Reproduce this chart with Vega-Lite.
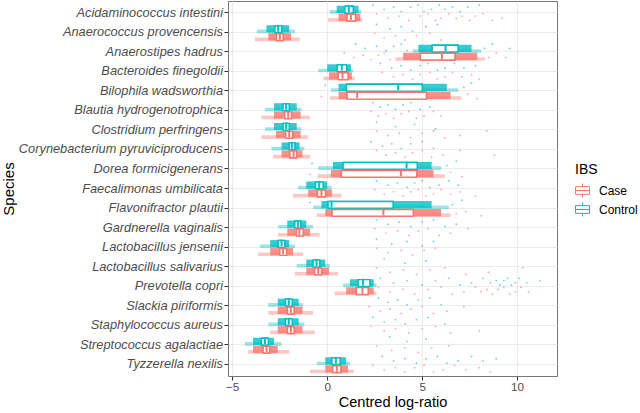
{
"$schema": "https://vega.github.io/schema/vega-lite/v6.json",
"width": 329, "height": 375,
"autosize": {"type": "none"},
"padding": {"left": 228, "top": 1, "right": 83, "bottom": 37},
"background": "white",
"config": {
 "font": "Liberation Sans",
 "view": {"stroke": "#777777", "strokeWidth": 1},
 "axis": {"domain": false, "gridColor": "#EBEBEB", "gridWidth": 1, "tickColor": "#333333", "tickSize": 4, "labelColor": "#4D4D4D", "titleColor": "#000000", "titleFontWeight": "normal"},
 "legend": {"orient": "none", "legendX": 347, "legendY": 162, "titleFontSize": 14, "titleFontWeight": "normal", "titleColor": "#000000", "labelFontSize": 12, "labelColor": "#000000", "symbolType": "M-1,-0.55H1 M1,-0.55V0.55 M1,0.55H-1 M-1,0.55V-0.55 M-1,0H1 M0,-0.55V-1 M0,0.55V1", "symbolSize": 196, "rowPadding": 0, "titlePadding": 6, "labelOffset": 9, "padding": 0, "symbolStrokeWidth": 1}
},
"datasets": {
 "sp": [
  {"s": "Ai", "species": "Acidaminococcus intestini"},
  {"s": "Ap", "species": "Anaerococcus provencensis"},
  {"s": "Ah", "species": "Anaerostipes hadrus"},
  {"s": "Bf", "species": "Bacteroides finegoldii"},
  {"s": "Bw", "species": "Bilophila wadsworthia"},
  {"s": "Bh", "species": "Blautia hydrogenotrophica"},
  {"s": "Cp", "species": "Clostridium perfringens"},
  {"s": "Cy", "species": "Corynebacterium pyruviciproducens"},
  {"s": "Df", "species": "Dorea formicigenerans"},
  {"s": "Fu", "species": "Faecalimonas umbilicata"},
  {"s": "Fp", "species": "Flavonifractor plautii"},
  {"s": "Gv", "species": "Gardnerella vaginalis"},
  {"s": "Lj", "species": "Lactobacillus jensenii"},
  {"s": "Ls", "species": "Lactobacillus salivarius"},
  {"s": "Pc", "species": "Prevotella copri"},
  {"s": "Sp", "species": "Slackia piriformis"},
  {"s": "Sa", "species": "Staphylococcus aureus"},
  {"s": "Sg", "species": "Streptococcus agalactiae"},
  {"s": "Tn", "species": "Tyzzerella nexilis"}
 ],
 "box": [
  {"species": "Acidaminococcus intestini", "g": "Control", "lo": 0.14, "a": 0.5, "q1": 0.93, "med": 1.14, "q3": 1.37, "b": 1.65, "hi": 1.8},
  {"species": "Acidaminococcus intestini", "g": "Case", "lo": 0.05, "a": 0.6, "q1": 1.05, "med": 1.25, "q3": 1.49, "b": 1.75, "hi": 1.85},
  {"species": "Anaerococcus provencensis", "g": "Control", "lo": -3.7, "a": -3.2, "q1": -2.75, "med": -2.58, "q3": -2.4, "b": -2.0, "hi": -1.7},
  {"species": "Anaerococcus provencensis", "g": "Case", "lo": -3.8, "a": -3.1, "q1": -2.67, "med": -2.49, "q3": -2.32, "b": -1.9, "hi": -1.44},
  {"species": "Anaerostipes hadrus", "g": "Control", "lo": 4.5, "a": 4.8, "q1": 5.53, "med": 6.23, "q3": 6.89, "b": 7.6, "hi": 8.1},
  {"species": "Anaerostipes hadrus", "g": "Case", "lo": 3.6, "a": 4.0, "q1": 4.91, "med": 6.04, "q3": 6.72, "b": 7.9, "hi": 8.3},
  {"species": "Bacteroides finegoldii", "g": "Control", "lo": -0.47, "a": 0.0, "q1": 0.54, "med": 0.77, "q3": 1.02, "b": 1.25, "hi": 1.37},
  {"species": "Bacteroides finegoldii", "g": "Case", "lo": -0.2, "a": 0.1, "q1": 0.58, "med": 0.81, "q3": 1.1, "b": 1.3, "hi": 1.45},
  {"species": "Bilophila wadsworthia", "g": "Control", "lo": 0.2, "a": 0.6, "q1": 1.02, "med": 3.74, "q3": 5.0, "b": 6.3, "hi": 6.9},
  {"species": "Bilophila wadsworthia", "g": "Case", "lo": 0.14, "a": 0.6, "q1": 1.05, "med": 1.58, "q3": 5.23, "b": 6.5, "hi": 7.07},
  {"species": "Blautia hydrogenotrophica", "g": "Control", "lo": -3.28, "a": -2.8, "q1": -2.32, "med": -2.16, "q3": -2.0, "b": -1.6, "hi": -1.35},
  {"species": "Blautia hydrogenotrophica", "g": "Case", "lo": -3.46, "a": -2.8, "q1": -2.23, "med": -2.05, "q3": -1.88, "b": -1.4, "hi": -0.91},
  {"species": "Clostridium perfringens", "g": "Control", "lo": -3.28, "a": -2.8, "q1": -2.32, "med": -2.16, "q3": -2.0, "b": -1.6, "hi": -1.35},
  {"species": "Clostridium perfringens", "g": "Case", "lo": -3.46, "a": -2.7, "q1": -2.18, "med": -2.0, "q3": -1.82, "b": -1.4, "hi": -1.0},
  {"species": "Corynebacterium pyruviciproducens", "g": "Control", "lo": -2.93, "a": -2.4, "q1": -2.0, "med": -1.86, "q3": -1.7, "b": -1.45, "hi": -1.2},
  {"species": "Corynebacterium pyruviciproducens", "g": "Case", "lo": -2.84, "a": -2.4, "q1": -1.96, "med": -1.77, "q3": -1.61, "b": -1.3, "hi": -0.9},
  {"species": "Dorea formicigenerans", "g": "Control", "lo": -0.47, "a": 0.3, "q1": 0.84, "med": 4.18, "q3": 4.74, "b": 5.5, "hi": 6.0},
  {"species": "Dorea formicigenerans", "g": "Case", "lo": -0.5, "a": 0.2, "q1": 0.75, "med": 3.88, "q3": 4.72, "b": 5.6, "hi": 6.2},
  {"species": "Faecalimonas umbilicata", "g": "Control", "lo": -1.53, "a": -1.1, "q1": -0.61, "med": -0.42, "q3": -0.21, "b": 0.0, "hi": 0.23},
  {"species": "Faecalimonas umbilicata", "g": "Case", "lo": -1.8, "a": -1.0, "q1": -0.51, "med": -0.3, "q3": -0.09, "b": 0.25, "hi": 0.75},
  {"species": "Flavonifractor plautii", "g": "Control", "lo": -0.74, "a": -0.3, "q1": 0.05, "med": 0.23, "q3": 3.47, "b": 5.5, "hi": 6.4},
  {"species": "Flavonifractor plautii", "g": "Case", "lo": -0.56, "a": -0.1, "q1": 0.26, "med": 2.96, "q3": 4.53, "b": 6.0, "hi": 6.5},
  {"species": "Gardnerella vaginalis", "g": "Control", "lo": -2.58, "a": -2.1, "q1": -1.7, "med": -1.54, "q3": -1.39, "b": -1.1, "hi": -0.74},
  {"species": "Gardnerella vaginalis", "g": "Case", "lo": -2.58, "a": -2.1, "q1": -1.61, "med": -1.47, "q3": -1.26, "b": -0.9, "hi": -0.4},
  {"species": "Lactobacillus jensenii", "g": "Control", "lo": -3.54, "a": -3.0, "q1": -2.58, "med": -2.4, "q3": -2.23, "b": -2.0, "hi": -1.7},
  {"species": "Lactobacillus jensenii", "g": "Case", "lo": -3.63, "a": -3.0, "q1": -2.49, "med": -2.32, "q3": -2.14, "b": -1.8, "hi": -1.26},
  {"species": "Lactobacillus salivarius", "g": "Control", "lo": -1.6, "a": -1.1, "q1": -0.74, "med": -0.56, "q3": -0.39, "b": -0.1, "hi": 0.14},
  {"species": "Lactobacillus salivarius", "g": "Case", "lo": -1.7, "a": -1.1, "q1": -0.65, "med": -0.47, "q3": -0.3, "b": 0.1, "hi": 0.58},
  {"species": "Prevotella copri", "g": "Control", "lo": 0.84, "a": 1.2, "q1": 1.63, "med": 1.89, "q3": 2.25, "b": 2.45, "hi": 2.6},
  {"species": "Prevotella copri", "g": "Case", "lo": 0.4, "a": 1.0, "q1": 1.54, "med": 1.86, "q3": 2.16, "b": 2.45, "hi": 2.6},
  {"species": "Slackia piriformis", "g": "Control", "lo": -3.1, "a": -2.6, "q1": -2.19, "med": -2.02, "q3": -1.84, "b": -1.5, "hi": -1.26},
  {"species": "Slackia piriformis", "g": "Case", "lo": -3.1, "a": -2.6, "q1": -2.09, "med": -1.91, "q3": -1.74, "b": -1.3, "hi": -0.74},
  {"species": "Staphylococcus aureus", "g": "Control", "lo": -3.1, "a": -2.6, "q1": -2.19, "med": -2.02, "q3": -1.84, "b": -1.5, "hi": -1.2},
  {"species": "Staphylococcus aureus", "g": "Case", "lo": -3.0, "a": -2.6, "q1": -2.09, "med": -1.91, "q3": -1.74, "b": -1.3, "hi": -0.65},
  {"species": "Streptococcus agalactiae", "g": "Control", "lo": -4.33, "a": -3.9, "q1": -3.46, "med": -3.28, "q3": -3.1, "b": -2.8, "hi": -2.4},
  {"species": "Streptococcus agalactiae", "g": "Case", "lo": -4.16, "a": -3.9, "q1": -3.37, "med": -3.19, "q3": -3.02, "b": -2.6, "hi": -2.0},
  {"species": "Tyzzerella nexilis", "g": "Control", "lo": -0.54, "a": -0.1, "q1": 0.25, "med": 0.46, "q3": 0.68, "b": 1.0, "hi": 1.21},
  {"species": "Tyzzerella nexilis", "g": "Case", "lo": -0.9, "a": -0.1, "q1": 0.3, "med": 0.51, "q3": 0.72, "b": 1.1, "hi": 1.4}
 ],
 "pts": [
  {"s":"Ai","g":"Control","l":"C1","v":2.4},{"s":"Ai","g":"Control","l":"C3","v":3.0},{"s":"Ai","g":"Control","l":"C2","v":3.5},{"s":"Ai","g":"Control","l":"C4","v":3.9},{"s":"Ai","g":"Control","l":"C2","v":4.4},{"s":"Ai","g":"Control","l":"C1","v":4.8},{"s":"Ai","g":"Control","l":"C4","v":5.1},{"s":"Ai","g":"Control","l":"C3","v":5.5},{"s":"Ai","g":"Control","l":"C1","v":5.9},{"s":"Ai","g":"Control","l":"C3","v":6.2},{"s":"Ai","g":"Control","l":"C2","v":6.6},{"s":"Ai","g":"Control","l":"C4","v":7.0},{"s":"Ai","g":"Control","l":"C2","v":7.4},{"s":"Ai","g":"Control","l":"C1","v":8.0},
  {"s":"Ai","g":"Case","l":"K1","v":2.6},{"s":"Ai","g":"Case","l":"K3","v":3.2},{"s":"Ai","g":"Case","l":"K2","v":3.8},{"s":"Ai","g":"Case","l":"K4","v":4.3},{"s":"Ai","g":"Case","l":"K2","v":4.9},{"s":"Ai","g":"Case","l":"K1","v":5.3},{"s":"Ai","g":"Case","l":"K4","v":5.7},{"s":"Ai","g":"Case","l":"K3","v":6.0},{"s":"Ai","g":"Case","l":"K1","v":6.4},{"s":"Ai","g":"Case","l":"K3","v":6.8},{"s":"Ai","g":"Case","l":"K2","v":7.1},{"s":"Ai","g":"Case","l":"K4","v":7.5},{"s":"Ai","g":"Case","l":"K2","v":7.8},{"s":"Ai","g":"Case","l":"K1","v":8.2},{"s":"Ai","g":"Case","l":"K4","v":8.7},{"s":"Ai","g":"Case","l":"K3","v":9.2},
  {"s":"Ap","g":"Control","l":"C1","v":2.6},{"s":"Ap","g":"Control","l":"C3","v":3.3},{"s":"Ap","g":"Control","l":"C2","v":3.9},{"s":"Ap","g":"Control","l":"C4","v":4.5},{"s":"Ap","g":"Control","l":"C2","v":5.2},{"s":"Ap","g":"Control","l":"C1","v":5.8},
  {"s":"Ap","g":"Case","l":"K1","v":2.5},{"s":"Ap","g":"Case","l":"K3","v":3.0},{"s":"Ap","g":"Case","l":"K2","v":3.6},{"s":"Ap","g":"Case","l":"K4","v":4.1},{"s":"Ap","g":"Case","l":"K2","v":4.7},{"s":"Ap","g":"Case","l":"K1","v":5.4},{"s":"Ap","g":"Case","l":"K4","v":6.0},
  {"s":"Ah","g":"Control","l":"C1","v":1.5},{"s":"Ah","g":"Control","l":"C3","v":2.0},{"s":"Ah","g":"Control","l":"C2","v":2.6},{"s":"Ah","g":"Control","l":"C4","v":3.1},{"s":"Ah","g":"Control","l":"C2","v":3.5},{"s":"Ah","g":"Control","l":"C1","v":3.9},{"s":"Ah","g":"Control","l":"C4","v":4.2},{"s":"Ah","g":"Control","l":"C3","v":8.3},{"s":"Ah","g":"Control","l":"C1","v":8.7},{"s":"Ah","g":"Control","l":"C3","v":9.6},
  {"s":"Ah","g":"Case","l":"K1","v":0.9},{"s":"Ah","g":"Case","l":"K3","v":1.4},{"s":"Ah","g":"Case","l":"K2","v":1.9},{"s":"Ah","g":"Case","l":"K4","v":2.3},{"s":"Ah","g":"Case","l":"K2","v":2.7},{"s":"Ah","g":"Case","l":"K1","v":3.0},{"s":"Ah","g":"Case","l":"K4","v":3.3},{"s":"Ah","g":"Case","l":"K3","v":8.5},{"s":"Ah","g":"Case","l":"K1","v":8.9},{"s":"Ah","g":"Case","l":"K3","v":9.4},
  {"s":"Bf","g":"Control","l":"C1","v":2.8},{"s":"Bf","g":"Control","l":"C3","v":3.4},{"s":"Bf","g":"Control","l":"C2","v":3.9},{"s":"Bf","g":"Control","l":"C4","v":4.4},{"s":"Bf","g":"Control","l":"C2","v":4.9},{"s":"Bf","g":"Control","l":"C1","v":5.3},{"s":"Bf","g":"Control","l":"C4","v":5.8},{"s":"Bf","g":"Control","l":"C3","v":6.2},{"s":"Bf","g":"Control","l":"C1","v":6.7},{"s":"Bf","g":"Control","l":"C3","v":7.2},{"s":"Bf","g":"Control","l":"C2","v":7.8},
  {"s":"Bf","g":"Case","l":"K1","v":2.9},{"s":"Bf","g":"Case","l":"K3","v":3.5},{"s":"Bf","g":"Case","l":"K2","v":4.0},{"s":"Bf","g":"Case","l":"K4","v":4.5},{"s":"Bf","g":"Case","l":"K2","v":4.9},{"s":"Bf","g":"Case","l":"K1","v":5.4},{"s":"Bf","g":"Case","l":"K4","v":5.8},{"s":"Bf","g":"Case","l":"K3","v":6.2},{"s":"Bf","g":"Case","l":"K1","v":6.6},{"s":"Bf","g":"Case","l":"K3","v":7.1},{"s":"Bf","g":"Case","l":"K2","v":7.6},{"s":"Bf","g":"Case","l":"K4","v":8.0},
  {"s":"Bw","g":"Control","l":"C2","v":-0.1},{"s":"Bw","g":"Control","l":"C3","v":7.2},{"s":"Bw","g":"Control","l":"C1","v":7.6},
  {"s":"Bw","g":"Case","l":"K3","v":-0.3},{"s":"Bw","g":"Case","l":"K2","v":7.4},{"s":"Bw","g":"Case","l":"K4","v":7.9},
  {"s":"Bh","g":"Control","l":"C1","v":2.4},{"s":"Bh","g":"Control","l":"C3","v":2.8},{"s":"Bh","g":"Control","l":"C2","v":3.2},{"s":"Bh","g":"Control","l":"C4","v":3.6},{"s":"Bh","g":"Control","l":"C2","v":4.0},{"s":"Bh","g":"Control","l":"C1","v":4.4},{"s":"Bh","g":"Control","l":"C4","v":4.9},{"s":"Bh","g":"Control","l":"C3","v":5.4},
  {"s":"Bh","g":"Case","l":"K1","v":2.3},{"s":"Bh","g":"Case","l":"K3","v":2.7},{"s":"Bh","g":"Case","l":"K2","v":3.1},{"s":"Bh","g":"Case","l":"K4","v":3.5},{"s":"Bh","g":"Case","l":"K2","v":3.9},{"s":"Bh","g":"Case","l":"K1","v":4.3},{"s":"Bh","g":"Case","l":"K4","v":4.7},{"s":"Bh","g":"Case","l":"K3","v":5.1},{"s":"Bh","g":"Case","l":"K1","v":5.6},{"s":"Bh","g":"Case","l":"K3","v":6.0},
  {"s":"Cp","g":"Control","l":"C1","v":2.6},{"s":"Cp","g":"Control","l":"C3","v":3.6},{"s":"Cp","g":"Control","l":"C2","v":4.6},{"s":"Cp","g":"Control","l":"C4","v":5.7},
  {"s":"Cp","g":"Case","l":"K1","v":2.6},{"s":"Cp","g":"Case","l":"K3","v":3.2},{"s":"Cp","g":"Case","l":"K2","v":3.8},{"s":"Cp","g":"Case","l":"K4","v":4.4},{"s":"Cp","g":"Case","l":"K2","v":5.0},{"s":"Cp","g":"Case","l":"K1","v":5.6},{"s":"Cp","g":"Case","l":"K4","v":6.2},{"s":"Cp","g":"Case","l":"K3","v":7.0},{"s":"Cp","g":"Case","l":"K1","v":8.4},
  {"s":"Cy","g":"Control","l":"C1","v":2.3},{"s":"Cy","g":"Control","l":"C3","v":2.9},{"s":"Cy","g":"Control","l":"C2","v":3.4},{"s":"Cy","g":"Control","l":"C4","v":3.9},{"s":"Cy","g":"Control","l":"C2","v":4.4},{"s":"Cy","g":"Control","l":"C1","v":5.0},{"s":"Cy","g":"Control","l":"C4","v":5.6},
  {"s":"Cy","g":"Case","l":"K1","v":2.6},{"s":"Cy","g":"Case","l":"K3","v":3.1},{"s":"Cy","g":"Case","l":"K2","v":3.6},{"s":"Cy","g":"Case","l":"K4","v":4.1},{"s":"Cy","g":"Case","l":"K2","v":4.5},{"s":"Cy","g":"Case","l":"K1","v":5.0},{"s":"Cy","g":"Case","l":"K4","v":5.5},{"s":"Cy","g":"Case","l":"K3","v":6.1},{"s":"Cy","g":"Case","l":"K1","v":7.0},{"s":"Cy","g":"Case","l":"K3","v":8.8},
  {"s":"Df","g":"Control","l":"C2","v":-0.8},{"s":"Df","g":"Control","l":"C3","v":6.3},{"s":"Df","g":"Control","l":"C1","v":6.8},
  {"s":"Df","g":"Case","l":"K3","v":-0.9},{"s":"Df","g":"Case","l":"K2","v":6.5},{"s":"Df","g":"Case","l":"K4","v":7.1},
  {"s":"Fu","g":"Control","l":"C1","v":2.6},{"s":"Fu","g":"Control","l":"C3","v":3.2},{"s":"Fu","g":"Control","l":"C2","v":3.7},{"s":"Fu","g":"Control","l":"C4","v":4.2},{"s":"Fu","g":"Control","l":"C2","v":4.6},{"s":"Fu","g":"Control","l":"C1","v":5.0},{"s":"Fu","g":"Control","l":"C4","v":5.4},{"s":"Fu","g":"Control","l":"C3","v":5.9},{"s":"Fu","g":"Control","l":"C1","v":6.4},{"s":"Fu","g":"Control","l":"C3","v":6.9},
  {"s":"Fu","g":"Case","l":"K1","v":2.5},{"s":"Fu","g":"Case","l":"K3","v":3.0},{"s":"Fu","g":"Case","l":"K2","v":3.5},{"s":"Fu","g":"Case","l":"K4","v":4.0},{"s":"Fu","g":"Case","l":"K2","v":4.4},{"s":"Fu","g":"Case","l":"K1","v":4.8},{"s":"Fu","g":"Case","l":"K4","v":5.2},{"s":"Fu","g":"Case","l":"K3","v":5.6},{"s":"Fu","g":"Case","l":"K1","v":6.0},{"s":"Fu","g":"Case","l":"K3","v":6.5},{"s":"Fu","g":"Case","l":"K2","v":7.0},{"s":"Fu","g":"Case","l":"K4","v":7.8},
  {"s":"Fp","g":"Control","l":"C2","v":-0.9},{"s":"Fp","g":"Control","l":"C3","v":6.6},{"s":"Fp","g":"Control","l":"C1","v":7.1},
  {"s":"Fp","g":"Case","l":"K3","v":6.8},{"s":"Fp","g":"Case","l":"K2","v":7.3},{"s":"Fp","g":"Case","l":"K4","v":8.1},
  {"s":"Gv","g":"Control","l":"C1","v":2.6},{"s":"Gv","g":"Control","l":"C3","v":3.2},{"s":"Gv","g":"Control","l":"C2","v":3.8},{"s":"Gv","g":"Control","l":"C4","v":4.4},{"s":"Gv","g":"Control","l":"C2","v":5.0},{"s":"Gv","g":"Control","l":"C1","v":5.6},{"s":"Gv","g":"Control","l":"C4","v":6.2},{"s":"Gv","g":"Control","l":"C3","v":6.8},
  {"s":"Gv","g":"Case","l":"K1","v":2.5},{"s":"Gv","g":"Case","l":"K3","v":3.1},{"s":"Gv","g":"Case","l":"K2","v":3.7},{"s":"Gv","g":"Case","l":"K4","v":4.3},{"s":"Gv","g":"Case","l":"K2","v":4.8},{"s":"Gv","g":"Case","l":"K1","v":5.3},{"s":"Gv","g":"Case","l":"K4","v":5.9},{"s":"Gv","g":"Case","l":"K3","v":6.5},{"s":"Gv","g":"Case","l":"K1","v":7.4},
  {"s":"Lj","g":"Control","l":"C1","v":2.6},{"s":"Lj","g":"Control","l":"C3","v":3.4},{"s":"Lj","g":"Control","l":"C2","v":4.2},{"s":"Lj","g":"Control","l":"C4","v":5.0},{"s":"Lj","g":"Control","l":"C2","v":5.6},
  {"s":"Lj","g":"Case","l":"K1","v":2.6},{"s":"Lj","g":"Case","l":"K3","v":3.2},{"s":"Lj","g":"Case","l":"K2","v":3.9},{"s":"Lj","g":"Case","l":"K4","v":4.5},{"s":"Lj","g":"Case","l":"K2","v":5.1},{"s":"Lj","g":"Case","l":"K1","v":5.7},
  {"s":"Ls","g":"Control","l":"C1","v":3.0},{"s":"Ls","g":"Control","l":"C3","v":4.1},{"s":"Ls","g":"Control","l":"C2","v":5.2},
  {"s":"Ls","g":"Case","l":"K1","v":2.6},{"s":"Ls","g":"Case","l":"K3","v":3.3},{"s":"Ls","g":"Case","l":"K2","v":4.0},{"s":"Ls","g":"Case","l":"K4","v":4.7},{"s":"Ls","g":"Case","l":"K2","v":5.4},{"s":"Ls","g":"Case","l":"K1","v":6.2},{"s":"Ls","g":"Case","l":"K4","v":7.3},{"s":"Ls","g":"Case","l":"K3","v":8.5},{"s":"Ls","g":"Case","l":"K1","v":10.3},
  {"s":"Pc","g":"Control","l":"C1","v":2.8},{"s":"Pc","g":"Control","l":"C3","v":3.5},{"s":"Pc","g":"Control","l":"C2","v":4.2},{"s":"Pc","g":"Control","l":"C4","v":5.0},{"s":"Pc","g":"Control","l":"C2","v":5.7},{"s":"Pc","g":"Control","l":"C1","v":6.4},{"s":"Pc","g":"Control","l":"C4","v":7.0},{"s":"Pc","g":"Control","l":"C3","v":7.6},{"s":"Pc","g":"Control","l":"C1","v":8.2},{"s":"Pc","g":"Control","l":"C3","v":8.6},{"s":"Pc","g":"Control","l":"C2","v":8.9},{"s":"Pc","g":"Control","l":"C4","v":9.1},{"s":"Pc","g":"Control","l":"C2","v":9.3},{"s":"Pc","g":"Control","l":"C1","v":9.5},{"s":"Pc","g":"Control","l":"C4","v":9.7},{"s":"Pc","g":"Control","l":"C3","v":9.9},{"s":"Pc","g":"Control","l":"C1","v":10.1},{"s":"Pc","g":"Control","l":"C3","v":10.5},{"s":"Pc","g":"Control","l":"C2","v":11.2},
  {"s":"Pc","g":"Case","l":"K1","v":2.7},{"s":"Pc","g":"Case","l":"K3","v":3.3},{"s":"Pc","g":"Case","l":"K2","v":4.0},{"s":"Pc","g":"Case","l":"K4","v":4.6},{"s":"Pc","g":"Case","l":"K2","v":5.3},{"s":"Pc","g":"Case","l":"K1","v":6.0},{"s":"Pc","g":"Case","l":"K4","v":6.6},{"s":"Pc","g":"Case","l":"K3","v":7.2},{"s":"Pc","g":"Case","l":"K1","v":7.8},{"s":"Pc","g":"Case","l":"K3","v":8.1},{"s":"Pc","g":"Case","l":"K2","v":8.4},{"s":"Pc","g":"Case","l":"K4","v":8.7},{"s":"Pc","g":"Case","l":"K2","v":9.0},{"s":"Pc","g":"Case","l":"K1","v":9.3},{"s":"Pc","g":"Case","l":"K4","v":9.6},{"s":"Pc","g":"Case","l":"K3","v":9.9},{"s":"Pc","g":"Case","l":"K1","v":10.2},{"s":"Pc","g":"Case","l":"K3","v":10.6},
  {"s":"Sp","g":"Control","l":"C1","v":2.7},{"s":"Sp","g":"Control","l":"C3","v":3.2},{"s":"Sp","g":"Control","l":"C2","v":3.7},{"s":"Sp","g":"Control","l":"C4","v":4.2},{"s":"Sp","g":"Control","l":"C2","v":4.8},{"s":"Sp","g":"Control","l":"C1","v":5.4},{"s":"Sp","g":"Control","l":"C4","v":6.0},
  {"s":"Sp","g":"Case","l":"K1","v":2.2},{"s":"Sp","g":"Case","l":"K3","v":2.8},{"s":"Sp","g":"Case","l":"K2","v":3.3},{"s":"Sp","g":"Case","l":"K4","v":3.9},{"s":"Sp","g":"Case","l":"K2","v":4.4},{"s":"Sp","g":"Case","l":"K1","v":5.0},{"s":"Sp","g":"Case","l":"K4","v":5.6},{"s":"Sp","g":"Case","l":"K3","v":6.3},{"s":"Sp","g":"Case","l":"K1","v":7.2},
  {"s":"Sa","g":"Control","l":"C1","v":2.4},{"s":"Sa","g":"Control","l":"C3","v":3.0},{"s":"Sa","g":"Control","l":"C2","v":3.6},{"s":"Sa","g":"Control","l":"C4","v":4.1},{"s":"Sa","g":"Control","l":"C2","v":4.7},{"s":"Sa","g":"Control","l":"C1","v":5.3},{"s":"Sa","g":"Control","l":"C4","v":6.2},
  {"s":"Sa","g":"Case","l":"K1","v":2.3},{"s":"Sa","g":"Case","l":"K3","v":3.0},{"s":"Sa","g":"Case","l":"K2","v":3.6},{"s":"Sa","g":"Case","l":"K4","v":4.3},{"s":"Sa","g":"Case","l":"K2","v":5.0},{"s":"Sa","g":"Case","l":"K1","v":5.7},{"s":"Sa","g":"Case","l":"K4","v":6.5},{"s":"Sa","g":"Case","l":"K3","v":8.0},
  {"s":"Sg","g":"Control","l":"C1","v":3.3},{"s":"Sg","g":"Control","l":"C3","v":4.2},{"s":"Sg","g":"Control","l":"C2","v":5.2},
  {"s":"Sg","g":"Case","l":"K1","v":2.6},{"s":"Sg","g":"Case","l":"K3","v":3.4},{"s":"Sg","g":"Case","l":"K2","v":4.1},{"s":"Sg","g":"Case","l":"K4","v":4.8},{"s":"Sg","g":"Case","l":"K2","v":5.5},{"s":"Sg","g":"Case","l":"K1","v":6.4},
  {"s":"Tn","g":"Control","l":"C1","v":2.9},{"s":"Tn","g":"Control","l":"C3","v":3.5},{"s":"Tn","g":"Control","l":"C2","v":4.1},{"s":"Tn","g":"Control","l":"C4","v":4.7},{"s":"Tn","g":"Control","l":"C2","v":5.2},{"s":"Tn","g":"Control","l":"C1","v":5.8},{"s":"Tn","g":"Control","l":"C4","v":6.3},{"s":"Tn","g":"Control","l":"C3","v":6.9},{"s":"Tn","g":"Control","l":"C1","v":7.6},{"s":"Tn","g":"Control","l":"C3","v":8.2},{"s":"Tn","g":"Control","l":"C2","v":8.9},
  {"s":"Tn","g":"Case","l":"K1","v":2.4},{"s":"Tn","g":"Case","l":"K3","v":3.0},{"s":"Tn","g":"Case","l":"K2","v":3.6},{"s":"Tn","g":"Case","l":"K4","v":4.1},{"s":"Tn","g":"Case","l":"K2","v":4.6},{"s":"Tn","g":"Case","l":"K1","v":5.1},{"s":"Tn","g":"Case","l":"K4","v":5.6},{"s":"Tn","g":"Case","l":"K3","v":6.1},{"s":"Tn","g":"Case","l":"K1","v":6.7},{"s":"Tn","g":"Case","l":"K3","v":7.3},{"s":"Tn","g":"Case","l":"K2","v":8.0},{"s":"Tn","g":"Case","l":"K4","v":8.6}
 ]
},
"resolve": {"scale": {"yOffset": "independent"}},
"layer": [
 {
  "data": {"name": "box"},
  "mark": {"type": "bar", "filled": false, "strokeWidth": 1.4, "height": {"band": 0.85}},
  "encoding": {
   "y": {"field": "species", "type": "nominal", "title": "Species",
    "scale": {"domain": ["Acidaminococcus intestini","Anaerococcus provencensis","Anaerostipes hadrus","Bacteroides finegoldii","Bilophila wadsworthia","Blautia hydrogenotrophica","Clostridium perfringens","Corynebacterium pyruviciproducens","Dorea formicigenerans","Faecalimonas umbilicata","Flavonifractor plautii","Gardnerella vaginalis","Lactobacillus jensenii","Lactobacillus salivarius","Prevotella copri","Slackia piriformis","Staphylococcus aureus","Streptococcus agalactiae","Tyzzerella nexilis"], "paddingInner": 0, "paddingOuter": 0.1},
    "axis": {"grid": true, "bandPosition": 0.5, "labelFontSize": 12.8, "labelFontStyle": "italic", "labelPadding": 1.5, "labelLimit": 300, "titleFontSize": 15, "titleX": -215, "titleY": 187.5, "titleAngle": -90, "titleBaseline": "alphabetic", "titleAlign": "center"}},
   "yOffset": {"field": "g", "scale": {"domain": ["Control", "Case"], "paddingInner": 0, "paddingOuter": 0.22}},
   "x": {"field": "q1", "type": "quantitative", "title": "Centred log-ratio",
    "scale": {"domain": [-5.22, 12.1], "nice": false, "zero": false},
    "axis": {"values": [-5, 0, 5, 10], "grid": true, "labelFontSize": 11.7, "labelPadding": 1.5, "titleFontSize": 14.6, "titleY": 30.5, "titleBaseline": "alphabetic"}},
   "x2": {"field": "q3"},
   "color": {"field": "g", "type": "nominal", "title": "IBS", "scale": {"domain": ["Case", "Control"], "range": ["#F8766D", "#00BFC4"]}}
  }
 },
 {
  "data": {"name": "box"},
  "mark": {"type": "bar", "opacity": 0.4, "height": {"band": 0.45}},
  "encoding": {
   "y": {"field": "species", "type": "nominal"},
   "yOffset": {"field": "g", "scale": {"domain": ["Control", "Case"], "paddingInner": 0, "paddingOuter": 0.22}},
   "x": {"field": "lo", "type": "quantitative"},
   "x2": {"field": "hi"},
   "color": {"field": "g", "type": "nominal", "title": "IBS"}
  }
 },
 {
  "data": {"name": "box"},
  "mark": {"type": "bar", "opacity": 0.8, "height": {"band": 0.9}},
  "encoding": {
   "y": {"field": "species", "type": "nominal"},
   "yOffset": {"field": "g", "scale": {"domain": ["Control", "Case"], "paddingInner": 0, "paddingOuter": 0.22}},
   "x": {"field": "a", "type": "quantitative"},
   "x2": {"field": "b"},
   "color": {"field": "g", "type": "nominal", "title": "IBS"}
  }
 },
 {
  "data": {"name": "pts"},
  "transform": [{"lookup": "s", "from": {"data": {"name": "sp"}, "key": "s", "fields": ["species"]}}],
  "mark": {"type": "circle", "size": 3.5, "opacity": 0.6},
  "encoding": {
   "y": {"field": "species", "type": "nominal"},
   "yOffset": {"field": "l", "scale": {"domain": ["C1","C2","C3","C4","K1","K2","K3","K4"], "paddingInner": 0, "paddingOuter": 0.88}},
   "x": {"field": "v", "type": "quantitative"},
   "color": {"field": "g", "type": "nominal", "title": "IBS"}
  }
 },
 {
  "data": {"name": "box"},
  "mark": {"type": "bar", "fill": "white", "height": {"band": 0.85}},
  "encoding": {
   "y": {"field": "species", "type": "nominal"},
   "yOffset": {"field": "g", "scale": {"domain": ["Control", "Case"], "paddingInner": 0, "paddingOuter": 0.22}},
   "x": {"field": "q1", "type": "quantitative"},
   "x2": {"field": "q3"}
  }
 },
 {
  "data": {"name": "box"},
  "mark": {"type": "bar", "filled": false, "strokeWidth": 1.4, "height": {"band": 0.85}},
  "encoding": {
   "y": {"field": "species", "type": "nominal"},
   "yOffset": {"field": "g", "scale": {"domain": ["Control", "Case"], "paddingInner": 0, "paddingOuter": 0.22}},
   "x": {"field": "q1", "type": "quantitative"},
   "x2": {"field": "q3"},
   "color": {"field": "g", "type": "nominal", "title": "IBS"}
  }
 },
 {
  "data": {"name": "box"},
  "mark": {"type": "tick", "thickness": 2, "size": 6.8, "opacity": 1},
  "encoding": {
   "y": {"field": "species", "type": "nominal"},
   "yOffset": {"field": "g", "scale": {"domain": ["Control", "Case"], "paddingInner": 0, "paddingOuter": 0.22}},
   "x": {"field": "med", "type": "quantitative"},
   "color": {"field": "g", "type": "nominal", "title": "IBS"}
  }
 }
]
}
